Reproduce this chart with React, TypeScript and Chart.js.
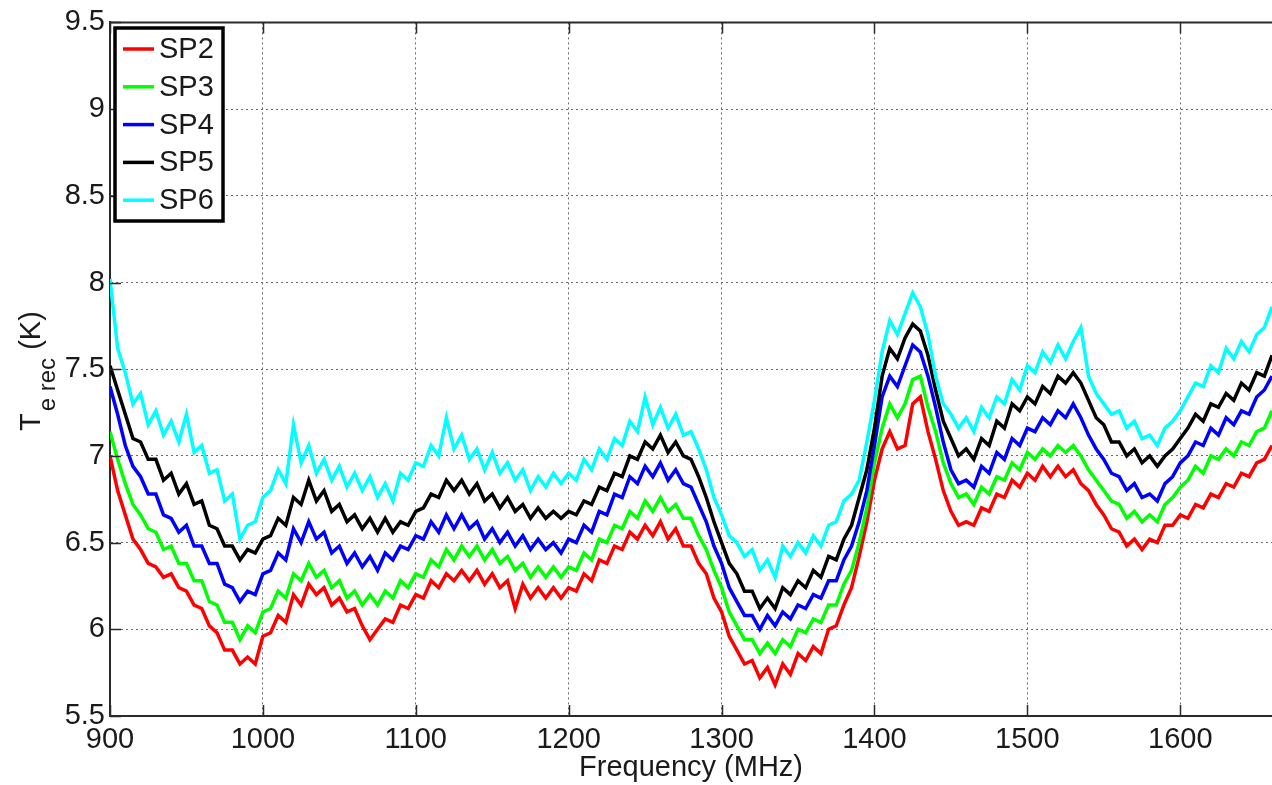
import React, { useEffect, useRef } from "react";
import { Chart, registerables } from "chart.js";

Chart.register(...registerables);

// Frequency axis (MHz)
const FREQ_MHZ = [
  900, 905, 910, 915, 920, 925, 930, 935, 940, 945,
  950, 955, 960, 965, 970, 975, 980, 985, 990, 995,
  1000, 1005, 1010, 1015, 1020, 1025, 1030, 1035, 1040, 1045,
  1050, 1055, 1060, 1065, 1070, 1075, 1080, 1085, 1090, 1095,
  1100, 1105, 1110, 1115, 1120, 1125, 1130, 1135, 1140, 1145,
  1150, 1155, 1160, 1165, 1170, 1175, 1180, 1185, 1190, 1195,
  1200, 1205, 1210, 1215, 1220, 1225, 1230, 1235, 1240, 1245,
  1250, 1255, 1260, 1265, 1270, 1275, 1280, 1285, 1290, 1295,
  1300, 1305, 1310, 1315, 1320, 1325, 1330, 1335, 1340, 1345,
  1350, 1355, 1360, 1365, 1370, 1375, 1380, 1385, 1390, 1395,
  1400, 1405, 1410, 1415, 1420, 1425, 1430, 1435, 1440, 1445,
  1450, 1455, 1460, 1465, 1470, 1475, 1480, 1485, 1490, 1495,
  1500, 1505, 1510, 1515, 1520, 1525, 1530, 1535, 1540, 1545,
  1550, 1555, 1560, 1565, 1570, 1575, 1580, 1585, 1590, 1595,
  1600, 1605, 1610, 1615, 1620, 1625, 1630, 1635, 1640, 1645,
  1650, 1655, 1660,
];

const SP2 = [
  7.00, 6.80, 6.66, 6.52, 6.46, 6.38, 6.36, 6.30, 6.32, 6.24,
  6.22, 6.14, 6.12, 6.02, 5.98, 5.88, 5.88, 5.80, 5.84, 5.80,
  5.96, 5.98, 6.08, 6.04, 6.20, 6.14, 6.26, 6.20, 6.24, 6.14,
  6.18, 6.10, 6.12, 6.02, 5.94, 6.00, 6.06, 6.04, 6.14, 6.12,
  6.20, 6.18, 6.28, 6.24, 6.32, 6.28, 6.34, 6.28, 6.34, 6.26,
  6.32, 6.24, 6.28, 6.12, 6.26, 6.18, 6.24, 6.18, 6.24, 6.18,
  6.24, 6.22, 6.32, 6.28, 6.40, 6.38, 6.48, 6.46, 6.56, 6.52,
  6.60, 6.54, 6.62, 6.52, 6.58, 6.48, 6.48, 6.38, 6.32, 6.18,
  6.10, 5.96, 5.88, 5.80, 5.82, 5.72, 5.78, 5.68, 5.80, 5.74,
  5.86, 5.82, 5.90, 5.86, 6.00, 6.02, 6.14, 6.24, 6.42, 6.62,
  6.86, 7.04, 7.14, 7.04, 7.06, 7.30, 7.34, 7.14, 6.98, 6.80,
  6.68, 6.60, 6.62, 6.60, 6.70, 6.68, 6.78, 6.76, 6.86, 6.82,
  6.90, 6.86, 6.94, 6.88, 6.94, 6.88, 6.92, 6.84, 6.80, 6.72,
  6.66, 6.58, 6.56, 6.48, 6.52, 6.46, 6.52, 6.50, 6.60, 6.60,
  6.66, 6.64, 6.72, 6.70, 6.78, 6.76, 6.84, 6.82, 6.90, 6.88,
  6.96, 6.98, 7.06,
];

const SP3 = [
  7.14, 6.98, 6.84, 6.72, 6.66, 6.58, 6.56, 6.46, 6.48, 6.38,
  6.38, 6.28, 6.28, 6.16, 6.14, 6.04, 6.04, 5.94, 6.02, 5.98,
  6.10, 6.12, 6.22, 6.18, 6.32, 6.28, 6.38, 6.30, 6.34, 6.24,
  6.28, 6.18, 6.22, 6.14, 6.20, 6.14, 6.22, 6.18, 6.28, 6.24,
  6.32, 6.30, 6.40, 6.36, 6.46, 6.40, 6.48, 6.42, 6.48, 6.40,
  6.46, 6.38, 6.42, 6.34, 6.38, 6.30, 6.36, 6.30, 6.36, 6.30,
  6.36, 6.34, 6.44, 6.40, 6.52, 6.50, 6.60, 6.58, 6.68, 6.64,
  6.74, 6.68, 6.76, 6.68, 6.72, 6.64, 6.64, 6.54, 6.46, 6.34,
  6.24, 6.10, 6.02, 5.94, 5.94, 5.86, 5.92, 5.86, 5.94, 5.90,
  6.00, 5.98, 6.06, 6.04, 6.14, 6.14, 6.26, 6.34, 6.50, 6.70,
  6.96, 7.16, 7.30, 7.22, 7.30, 7.44, 7.46, 7.28, 7.14, 6.96,
  6.84, 6.76, 6.78, 6.72, 6.82, 6.78, 6.88, 6.86, 6.96, 6.92,
  7.02, 6.98, 7.04, 7.00, 7.06, 7.02, 7.06, 7.00, 6.92, 6.86,
  6.80, 6.74, 6.72, 6.64, 6.68, 6.62, 6.66, 6.62, 6.72, 6.76,
  6.82, 6.86, 6.94, 6.90, 7.00, 6.98, 7.04, 7.00, 7.08, 7.06,
  7.14, 7.16, 7.26,
];

const SP4 = [
  7.40, 7.24, 7.06, 6.94, 6.88, 6.78, 6.78, 6.66, 6.64, 6.56,
  6.60, 6.48, 6.48, 6.38, 6.38, 6.26, 6.24, 6.16, 6.22, 6.20,
  6.32, 6.34, 6.44, 6.40, 6.58, 6.50, 6.62, 6.52, 6.56, 6.44,
  6.48, 6.38, 6.44, 6.36, 6.42, 6.34, 6.44, 6.40, 6.48, 6.46,
  6.54, 6.52, 6.62, 6.56, 6.66, 6.58, 6.66, 6.58, 6.62, 6.52,
  6.58, 6.50, 6.56, 6.48, 6.54, 6.46, 6.52, 6.46, 6.50, 6.44,
  6.52, 6.50, 6.60, 6.56, 6.68, 6.66, 6.78, 6.76, 6.88, 6.84,
  6.94, 6.88, 6.96, 6.86, 6.92, 6.84, 6.82, 6.72, 6.62, 6.48,
  6.38, 6.24, 6.16, 6.08, 6.08, 6.00, 6.08, 6.02, 6.10, 6.06,
  6.14, 6.12, 6.20, 6.18, 6.28, 6.28, 6.40, 6.48, 6.62, 6.80,
  7.06, 7.34, 7.46, 7.40, 7.52, 7.64, 7.60, 7.46, 7.28, 7.08,
  6.92, 6.84, 6.86, 6.82, 6.94, 6.90, 7.02, 6.98, 7.10, 7.06,
  7.16, 7.14, 7.22, 7.18, 7.26, 7.22, 7.30, 7.22, 7.12, 7.04,
  6.98, 6.90, 6.88, 6.80, 6.84, 6.76, 6.78, 6.74, 6.84, 6.88,
  6.96, 7.00, 7.08, 7.06, 7.16, 7.12, 7.22, 7.18, 7.26, 7.24,
  7.34, 7.38, 7.46,
];

const SP5 = [
  7.52, 7.38, 7.24, 7.10, 7.08, 6.98, 6.98, 6.86, 6.90, 6.78,
  6.84, 6.72, 6.74, 6.60, 6.58, 6.48, 6.48, 6.40, 6.46, 6.44,
  6.52, 6.54, 6.64, 6.60, 6.76, 6.72, 6.86, 6.74, 6.80, 6.68,
  6.72, 6.62, 6.66, 6.58, 6.64, 6.56, 6.64, 6.56, 6.62, 6.60,
  6.68, 6.70, 6.78, 6.76, 6.86, 6.80, 6.86, 6.78, 6.84, 6.74,
  6.78, 6.70, 6.76, 6.68, 6.72, 6.64, 6.70, 6.64, 6.68, 6.64,
  6.68, 6.66, 6.74, 6.72, 6.82, 6.80, 6.90, 6.88, 7.00, 6.98,
  7.08, 7.04, 7.12, 7.02, 7.08, 7.00, 6.98, 6.88, 6.76, 6.62,
  6.50, 6.38, 6.32, 6.22, 6.22, 6.12, 6.18, 6.12, 6.24, 6.20,
  6.28, 6.24, 6.34, 6.30, 6.42, 6.40, 6.52, 6.60, 6.76, 6.92,
  7.16, 7.46, 7.62, 7.56, 7.68, 7.76, 7.72, 7.58, 7.38, 7.20,
  7.10, 7.00, 7.04, 6.98, 7.10, 7.06, 7.20, 7.16, 7.30, 7.26,
  7.34, 7.30, 7.40, 7.36, 7.46, 7.42, 7.48, 7.42, 7.32, 7.22,
  7.18, 7.08, 7.08, 7.00, 7.04, 6.96, 7.00, 6.94, 7.00, 7.04,
  7.10, 7.16, 7.24, 7.20, 7.30, 7.28, 7.36, 7.32, 7.42, 7.38,
  7.48, 7.46, 7.58,
];

const SP6 = [
  8.02, 7.62, 7.48, 7.30, 7.36, 7.18, 7.26, 7.12, 7.20, 7.08,
  7.24, 7.02, 7.06, 6.90, 6.92, 6.74, 6.78, 6.52, 6.60, 6.62,
  6.76, 6.80, 6.92, 6.84, 7.18, 6.96, 7.06, 6.90, 6.98, 6.86,
  6.94, 6.82, 6.90, 6.80, 6.88, 6.76, 6.84, 6.74, 6.90, 6.86,
  6.96, 6.94, 7.06, 7.00, 7.22, 7.04, 7.12, 6.98, 7.04, 6.92,
  7.02, 6.90, 6.96, 6.86, 6.92, 6.80, 6.88, 6.82, 6.90, 6.84,
  6.90, 6.86, 6.98, 6.92, 7.04, 6.98, 7.10, 7.06, 7.20, 7.14,
  7.34, 7.18, 7.28, 7.16, 7.24, 7.12, 7.14, 7.04, 6.92, 6.76,
  6.66, 6.54, 6.50, 6.42, 6.46, 6.34, 6.40, 6.30, 6.48, 6.42,
  6.50, 6.44, 6.54, 6.48, 6.60, 6.62, 6.74, 6.78, 6.86, 7.08,
  7.32, 7.60, 7.78, 7.70, 7.82, 7.94, 7.86, 7.70, 7.46, 7.30,
  7.24, 7.16, 7.22, 7.14, 7.28, 7.22, 7.34, 7.30, 7.44, 7.38,
  7.52, 7.48, 7.60, 7.54, 7.64, 7.56, 7.66, 7.74, 7.46, 7.36,
  7.30, 7.24, 7.26, 7.16, 7.20, 7.10, 7.12, 7.06, 7.16, 7.20,
  7.26, 7.34, 7.42, 7.40, 7.52, 7.48, 7.62, 7.56, 7.66, 7.60,
  7.70, 7.74, 7.86,
];

const SERIES_LABELS = ["SP2", "SP3", "SP4", "SP5", "SP6"];
const SERIES_COLORS = ["#ff0000", "#00ff00", "#0000ff", "#000000", "#00ffff"];
const X_TICKS = [900, 1000, 1100, 1200, 1300, 1400, 1500, 1600];
const Y_TICKS = [5.5, 6, 6.5, 7, 7.5, 8, 8.5, 9, 9.5];
const X_TITLE = "Frequency (MHz)";
const Y_TITLE_MAIN = "T";
const Y_TITLE_SUB = "e rec";
const Y_TITLE_UNIT = "(K)";

const FONT = "'Liberation Sans', Arial, Helvetica, sans-serif";
const TEXT_COLOR = "#1a1a1a";
const AXIS_COLOR = "#2a2a2a";

export default function App() {
  const canvasRef = useRef<HTMLCanvasElement | null>(null);

  useEffect(() => {
    const canvas = canvasRef.current;
    if (!canvas) return;
    const series = [SP2, SP3, SP4, SP5, SP6];

    const framePlugin = {
      id: "matlabFrame",
      afterDraw(chart: any) {
        const { ctx, chartArea } = chart;
        const { left, right, top, bottom } = chartArea;
        const xs = chart.scales.x;
        const ys = chart.scales.y;
        ctx.save();
        // top border
        ctx.strokeStyle = AXIS_COLOR;
        ctx.lineWidth = 2;
        ctx.beginPath();
        ctx.moveTo(left, top);
        ctx.lineTo(right, top);
        ctx.stroke();
        // inner tick marks
        const tl = 11;
        ctx.lineWidth = 1.5;
        ctx.beginPath();
        X_TICKS.forEach((v) => {
          const px = Math.round(xs.getPixelForValue(v)) + 0.5;
          ctx.moveTo(px, bottom);
          ctx.lineTo(px, bottom - tl);
          ctx.moveTo(px, top);
          ctx.lineTo(px, top + tl);
        });
        Y_TICKS.forEach((v) => {
          const py = Math.round(ys.getPixelForValue(v)) + 0.5;
          ctx.moveTo(left, py);
          ctx.lineTo(left + tl, py);
        });
        ctx.stroke();

        // legend
        const lx = 115, ly = 28, lw = 108, lh = 193;
        ctx.fillStyle = "#ffffff";
        ctx.fillRect(lx, ly, lw, lh);
        ctx.strokeStyle = "#000000";
        ctx.lineWidth = 3.5;
        ctx.strokeRect(lx, ly, lw, lh);
        ctx.font = `29px ${FONT}`;
        ctx.textBaseline = "middle";
        ctx.textAlign = "left";
        SERIES_LABELS.forEach((lab, i) => {
          const yy = 49 + i * 37.8;
          ctx.strokeStyle = SERIES_COLORS[i];
          ctx.lineWidth = 3.5;
          ctx.beginPath();
          ctx.moveTo(123, yy);
          ctx.lineTo(154, yy);
          ctx.stroke();
          ctx.fillStyle = TEXT_COLOR;
          ctx.fillText(lab, 159, yy + 1);
        });

        // y-axis title with subscript
        ctx.rotate(-Math.PI / 2);
        ctx.fillStyle = TEXT_COLOR;
        ctx.textBaseline = "alphabetic";
        let pos = -431;
        ctx.font = `29px ${FONT}`;
        ctx.fillText(Y_TITLE_MAIN, pos, 40);
        pos += ctx.measureText(Y_TITLE_MAIN).width + 2;
        ctx.font = `24px ${FONT}`;
        ctx.fillText(Y_TITLE_SUB, pos, 55);
        pos += ctx.measureText(Y_TITLE_SUB).width;
        ctx.font = `29px ${FONT}`;
        pos += ctx.measureText(" ").width;
        ctx.fillText(Y_TITLE_UNIT, pos, 40);
        ctx.restore();
      },
    };

    const chart = new Chart(canvas, {
      type: "line",
      data: {
        datasets: series.map((s, i) => ({
          label: SERIES_LABELS[i],
          data: FREQ_MHZ.map((f, j) => ({ x: f, y: s[j] })),
          borderColor: SERIES_COLORS[i],
          backgroundColor: SERIES_COLORS[i],
          borderWidth: 3.5,
          pointRadius: 0,
          tension: 0,
          fill: false,
          order: 4 - i,
        })),
      },
      options: {
        responsive: false,
        animation: false,
        devicePixelRatio: 1,
        layout: { padding: { top: 22, right: 0, left: 0, bottom: 0 } },
        plugins: { legend: { display: false }, tooltip: { enabled: false } },
        scales: {
          x: {
            type: "linear",
            min: 900,
            max: 1660,
            afterBuildTicks: (axis: any) => {
              axis.ticks = X_TICKS.map((v) => ({ value: v }));
            },
            afterFit: (axis: any) => {
              axis.height = 69;
            },
            ticks: {
              autoSkip: false,
              maxRotation: 0,
              padding: 7,
              color: TEXT_COLOR,
              font: { family: FONT, size: 29 },
              callback: (v: any) => String(v),
            },
            grid: { color: "#6a6a6a", lineWidth: 1, drawTicks: false },
            border: { display: true, color: AXIS_COLOR, width: 2, dash: [2, 3] },
            title: {
              display: true,
              text: X_TITLE,
              color: TEXT_COLOR,
              font: { family: FONT, size: 29 },
              padding: { top: 0, bottom: 0 },
            },
          },
          y: {
            type: "linear",
            min: 5.5,
            max: 9.5,
            afterBuildTicks: (axis: any) => {
              axis.ticks = Y_TICKS.map((v) => ({ value: v }));
            },
            afterFit: (axis: any) => {
              axis.width = 110;
            },
            ticks: {
              padding: 5,
              color: TEXT_COLOR,
              font: { family: FONT, size: 29 },
              callback: (v: any) => String(v),
            },
            grid: { color: "#6a6a6a", lineWidth: 1, drawTicks: false },
            border: { display: true, color: AXIS_COLOR, width: 2, dash: [2, 3] },
          },
        },
      },
      plugins: [framePlugin],
    });

    return () => chart.destroy();
  }, []);

  return (
    <div
      style={{
        position: "absolute",
        left: 0,
        top: 0,
        width: 1272,
        height: 785,
        background: "#ffffff",
      }}
    >
      <canvas ref={canvasRef} width={1272} height={785} style={{ display: "block" }} />
    </div>
  );
}
